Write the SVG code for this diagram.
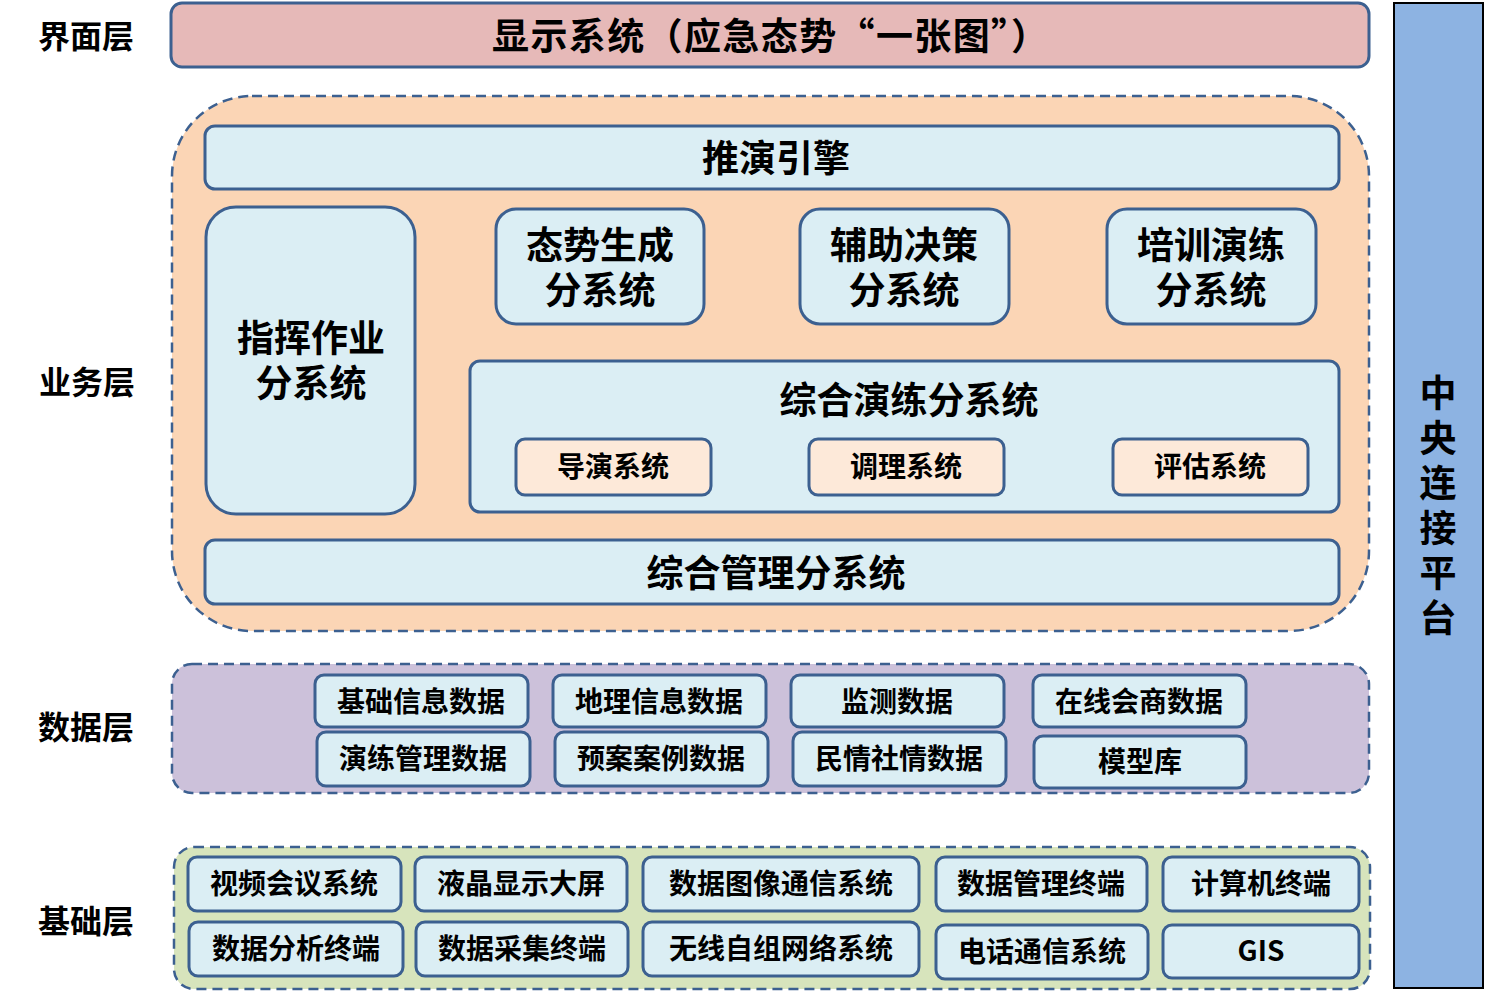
<svg xmlns="http://www.w3.org/2000/svg" width="1485" height="991" viewBox="0 0 1485 991">
<style>
text{font-family:"Noto Sans CJK SC","Noto Sans",sans-serif;font-weight:bold;fill:#000;text-anchor:middle;dominant-baseline:central}
.box{fill:#dbeef4;stroke:#3c6090;stroke-width:3}
.sub{fill:#fde9d9;stroke:#3c6090;stroke-width:3}
.grp{stroke:#3c6090;stroke-width:2.5;stroke-dasharray:10 6}
.t38{font-size:37px}
.t29{font-size:28px}
.lbl{font-size:32px}
</style>
<rect width="1485" height="991" fill="#ffffff"/>
<g id="labels">
<text class="lbl" x="86" y="34">界面层</text>
<text class="lbl" x="87" y="380">业务层</text>
<text class="lbl" x="86" y="725">数据层</text>
<text class="lbl" x="86" y="919">基础层</text>
</g>
<g id="platform">
<rect x="1394" y="3" width="89" height="985" fill="#8db3e2" stroke="#000" stroke-width="2"/>
<text class="t38" x="1438" y="391">中<tspan x="1438" dy="45">央</tspan><tspan x="1438" dy="45">连</tspan><tspan x="1438" dy="45">接</tspan><tspan x="1438" dy="45">平</tspan><tspan x="1438" dy="45">台</tspan></text>
</g>
<g id="display">
<rect x="171" y="3" width="1198" height="64" rx="11" fill="#e6b9b8" stroke="#3c6090" stroke-width="3"/>
<text class="t38" x="770" y="34" textLength="556" lengthAdjust="spacing">显示系统（应急态势“一张图”）</text>
</g>
<g id="business">
<rect class="grp" x="172" y="96" width="1197" height="535" rx="80" fill="#fbd5b5"/>
<g id="engine"><rect class="box" x="205" y="126" width="1134" height="63" rx="10"/><text class="t38" x="776" y="156">推演引擎</text></g>
<g id="command"><rect class="box" x="206" y="207" width="209" height="307" rx="30"/><text class="t38" x="311" y="336">指挥作业<tspan x="311" dy="45">分系统</tspan></text></g>
<g id="situation"><rect class="box" x="496" y="209" width="208" height="115" rx="20"/><text class="t38" x="600" y="243">态势生成<tspan x="600" dy="45">分系统</tspan></text></g>
<g id="decision"><rect class="box" x="800" y="209" width="209" height="115" rx="20"/><text class="t38" x="904" y="243">辅助决策<tspan x="904" dy="45">分系统</tspan></text></g>
<g id="training"><rect class="box" x="1107" y="209" width="209" height="115" rx="20"/><text class="t38" x="1211" y="243">培训演练<tspan x="1211" dy="45">分系统</tspan></text></g>
<g id="exercise"><rect class="box" x="470" y="361" width="869" height="151" rx="10"/><text class="t38" x="909" y="398">综合演练分系统</text></g>
<g id="director"><rect class="sub" x="516" y="439" width="195" height="56" rx="9"/><text class="t29" x="613" y="465">导演系统</text></g>
<g id="adjust"><rect class="sub" x="809" y="439" width="195" height="56" rx="9"/><text class="t29" x="906" y="465">调理系统</text></g>
<g id="evaluate"><rect class="sub" x="1113" y="439" width="195" height="56" rx="9"/><text class="t29" x="1210" y="465">评估系统</text></g>
<g id="management"><rect class="box" x="205" y="540" width="1134" height="64" rx="10"/><text class="t38" x="776" y="571">综合管理分系统</text></g>
</g>
<g id="data">
<rect class="grp" x="172" y="664" width="1197" height="129" rx="20" fill="#ccc1da"/>
<g id="d1"><rect class="box" x="315" y="675" width="213" height="52" rx="9"/><text class="t29" x="421" y="700">基础信息数据</text></g>
<g id="d2"><rect class="box" x="553" y="675" width="213" height="52" rx="9"/><text class="t29" x="659" y="700">地理信息数据</text></g>
<g id="d3"><rect class="box" x="791" y="675" width="213" height="52" rx="9"/><text class="t29" x="897" y="700">监测数据</text></g>
<g id="d4"><rect class="box" x="1033" y="675" width="213" height="52" rx="9"/><text class="t29" x="1139" y="700">在线会商数据</text></g>
<g id="d5"><rect class="box" x="317" y="732" width="213" height="54" rx="9"/><text class="t29" x="423" y="757">演练管理数据</text></g>
<g id="d6"><rect class="box" x="555" y="732" width="213" height="54" rx="9"/><text class="t29" x="661" y="757">预案案例数据</text></g>
<g id="d7"><rect class="box" x="793" y="732" width="213" height="54" rx="9"/><text class="t29" x="899" y="757">民情社情数据</text></g>
<g id="d8"><rect class="box" x="1034" y="736" width="212" height="52" rx="9"/><text class="t29" x="1140" y="760">模型库</text></g>
</g>
<g id="base">
<rect class="grp" x="174" y="847" width="1196" height="142" rx="20" fill="#d7e4bc"/>
<g id="b1"><rect class="box" x="188" y="857" width="213" height="54" rx="9"/><text class="t29" x="294" y="882">视频会议系统</text></g>
<g id="b2"><rect class="box" x="415" y="857" width="212" height="54" rx="9"/><text class="t29" x="521" y="882">液晶显示大屏</text></g>
<g id="b3"><rect class="box" x="643" y="857" width="276" height="54" rx="9"/><text class="t29" x="781" y="882">数据图像通信系统</text></g>
<g id="b4"><rect class="box" x="936" y="857" width="211" height="54" rx="9"/><text class="t29" x="1041" y="882">数据管理终端</text></g>
<g id="b5"><rect class="box" x="1163" y="857" width="196" height="54" rx="9"/><text class="t29" x="1261" y="882">计算机终端</text></g>
<g id="b6"><rect class="box" x="189" y="922" width="214" height="54" rx="9"/><text class="t29" x="296" y="947">数据分析终端</text></g>
<g id="b7"><rect class="box" x="416" y="922" width="212" height="54" rx="9"/><text class="t29" x="522" y="947">数据采集终端</text></g>
<g id="b8"><rect class="box" x="643" y="922" width="276" height="54" rx="9"/><text class="t29" x="781" y="947">无线自组网络系统</text></g>
<g id="b9"><rect class="box" x="936" y="925" width="212" height="54" rx="9"/><text class="t29" x="1042" y="950">电话通信系统</text></g>
<g id="b10"><rect class="box" x="1163" y="925" width="196" height="53" rx="9"/><text class="t29" x="1261" y="949">GIS</text></g>
</g>
<g id="connectors"></g>
</svg>
